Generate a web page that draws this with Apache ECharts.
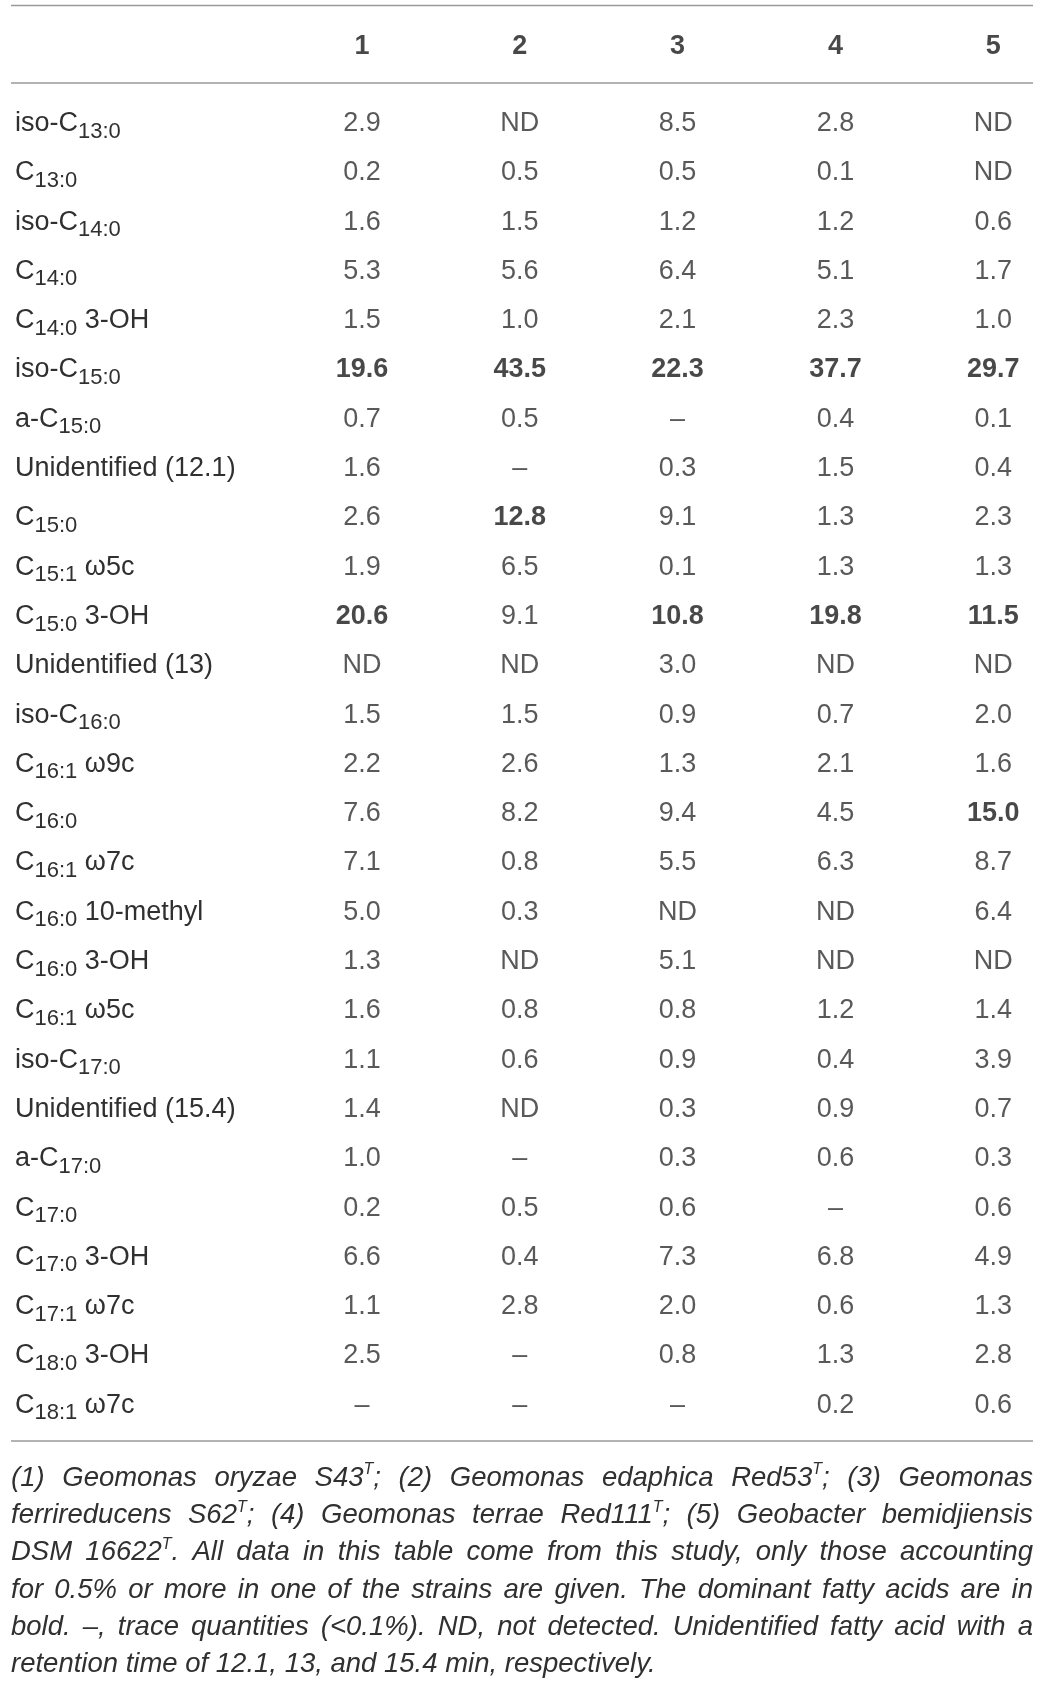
<!DOCTYPE html>
<html>
<head>
<meta charset="utf-8">
<script src="https://cdn.jsdelivr.net/npm/echarts@6/dist/echarts.min.js"></script>
<style>
html,body{margin:0;padding:0;background:#fff;}
#chart{width:1039px;height:1684px;}
</style>
</head>
<body>
<div id="chart"></div>
<script>
// ---------- data ----------
const strains = ['1', '2', '3', '4', '5'];

// fatty acid row labels: [prefix, subscript, suffix]
const acids = [
  ['iso-C', '13:0', ''],
  ['C', '13:0', ''],
  ['iso-C', '14:0', ''],
  ['C', '14:0', ''],
  ['C', '14:0', ' 3-OH'],
  ['iso-C', '15:0', ''],
  ['a-C', '15:0', ''],
  ['Unidentified (12.1)', '', ''],
  ['C', '15:0', ''],
  ['C', '15:1', ' ω5c'],
  ['C', '15:0', ' 3-OH'],
  ['Unidentified (13)', '', ''],
  ['iso-C', '16:0', ''],
  ['C', '16:1', ' ω9c'],
  ['C', '16:0', ''],
  ['C', '16:1', ' ω7c'],
  ['C', '16:0', ' 10-methyl'],
  ['C', '16:0', ' 3-OH'],
  ['C', '16:1', ' ω5c'],
  ['iso-C', '17:0', ''],
  ['Unidentified (15.4)', '', ''],
  ['a-C', '17:0', ''],
  ['C', '17:0', ''],
  ['C', '17:0', ' 3-OH'],
  ['C', '17:1', ' ω7c'],
  ['C', '18:0', ' 3-OH'],
  ['C', '18:1', ' ω7c']
];

const strain1 = ['2.9','0.2','1.6','5.3','1.5','19.6','0.7','1.6','2.6','1.9','20.6','ND','1.5','2.2','7.6','7.1','5.0','1.3','1.6','1.1','1.4','1.0','0.2','6.6','1.1','2.5','–'];
const strain2 = ['ND','0.5','1.5','5.6','1.0','43.5','0.5','–','12.8','6.5','9.1','ND','1.5','2.6','8.2','0.8','0.3','ND','0.8','0.6','ND','–','0.5','0.4','2.8','–','–'];
const strain3 = ['8.5','0.5','1.2','6.4','2.1','22.3','–','0.3','9.1','0.1','10.8','3.0','0.9','1.3','9.4','5.5','ND','5.1','0.8','0.9','0.3','0.3','0.6','7.3','2.0','0.8','–'];
const strain4 = ['2.8','0.1','1.2','5.1','2.3','37.7','0.4','1.5','1.3','1.3','19.8','ND','0.7','2.1','4.5','6.3','ND','ND','1.2','0.4','0.9','0.6','–','6.8','0.6','1.3','0.2'];
const strain5 = ['ND','ND','0.6','1.7','1.0','29.7','0.1','0.4','2.3','1.3','11.5','ND','2.0','1.6','15.0','8.7','6.4','ND','1.4','3.9','0.7','0.3','0.6','4.9','1.3','2.8','0.6'];

// dominant (bold) cells: [rowIndex, strainIndex]
const dominant = [[5,0],[5,1],[5,2],[5,3],[5,4],[8,1],[10,0],[10,2],[10,3],[10,4],[14,4]];

const captionLines = [
  '(1) Geomonas oryzae S43^T; (2) Geomonas edaphica Red53^T; (3) Geomonas',
  'ferrireducens S62^T; (4) Geomonas terrae Red111^T; (5) Geobacter bemidjiensis',
  'DSM 16622^T. All data in this table come from this study, only those accounting',
  'for 0.5% or more in one of the strains are given. The dominant fatty acids are in',
  'bold. –, trace quantities (<0.1%). ND, not detected. Unidentified fatty acid with a',
  'retention time of 12.1, 13, and 15.4 min, respectively.'
];

// ---------- layout ----------
const W = 1039;
const FONT = '"Liberation Sans", Arial, Helvetica, sans-serif';
const TXT = '#303030';
const colStep = 157.8, col1X = 362;
const xMin = (0 - (col1X - colStep)) / colStep;
const xMax = (W - (col1X - colStep)) / colStep;
const rowStep = 49.3, row1Y = 123.5;
const ruleColor = '#9a9a9a';
const ruleL = 11, ruleR = 1033;
const cellSize = 27, subSize = 22;

const columns = [strain1, strain2, strain3, strain4, strain5];
const isBold = (r, c) => dominant.some(d => d[0] === r && d[1] === c);

const cells = [];
columns.forEach((col, c) => {
  col.forEach((v, r) => {
    cells.push({
      value: [c + 1, r],
      text: v,
      label: isBold(r, c) ? { fontWeight: 'bold', color: '#1a1a1a' } : {}
    });
  });
});

const headerCells = strains.map((s, i) => ({ value: [i + 1, 0], text: s }));

// caption: justified lines via measured words
const capSize = 27.5, supSize = 16;
const cv = document.createElement('canvas').getContext('2d');
function measure(str, size) {
  cv.font = 'italic ' + size + 'px ' + FONT;
  return cv.measureText(str).width;
}
function wordInfo(word) {
  const parts = word.split('^T');
  let w = 0, rich = '';
  parts.forEach((p, i) => {
    if (p) { w += measure(p, capSize); rich += p; }
    if (i < parts.length - 1) { w += measure('T', supSize); rich += '{sup|T}'; }
  });
  return { w, rich };
}
const capTop = 1478, capStep = 37.3;
const graphics = [];
captionLines.forEach((line, li) => {
  const words = line.split(' ').map(wordInfo);
  const total = words.reduce((a, b) => a + b.w, 0);
  const last = li === captionLines.length - 1;
  const gap = last ? measure(' ', capSize) : (ruleR - ruleL - total) / (words.length - 1);
  let x = ruleL;
  words.forEach(wd => {
    graphics.push({
      type: 'text',
      x: x,
      y: capTop + li * capStep,
      style: {
        text: wd.rich,
        fontSize: capSize,
        fontFamily: FONT,
        fontStyle: 'italic',
        fill: TXT,
        lineHeight: 32,
        textAlign: 'left',
        textVerticalAlign: 'middle',
        rich: {
          sup: { fontSize: supSize, fontStyle: 'italic', fontFamily: FONT, lineHeight: 17, verticalAlign: 'top', fill: TXT, color: TXT }
        }
      }
    });
    x += wd.w + gap;
  });
});

// table rules
[5.5, 83, 1441].forEach(y => {
  graphics.push({
    type: 'line',
    shape: { x1: ruleL, y1: y, x2: ruleR, y2: y },
    style: { stroke: ruleColor, lineWidth: 1.6 }
  });
});

const chart = echarts.init(document.getElementById('chart'), null, { renderer: 'canvas' });
chart.setOption({
  backgroundColor: '#fff',
  animation: false,
  grid: [
    { left: 0, width: W, top: row1Y - rowStep / 2, height: rowStep * acids.length },
    { left: 0, width: W, top: 22, height: 50 }
  ],
  xAxis: [
    { type: 'value', gridIndex: 0, min: xMin, max: xMax, show: false },
    { type: 'value', gridIndex: 1, min: xMin, max: xMax, show: false }
  ],
  yAxis: [
    {
      type: 'category', gridIndex: 0, inverse: true,
      data: acids.map(a => a.join('')),
      axisLine: { show: false }, axisTick: { show: false }, splitLine: { show: false },
      axisLabel: {
        inside: true, margin: 15, align: 'left', interval: 0,
        formatter: (v, idx) => {
          const a = acids[idx];
          let s = '{m|' + a[0] + '}';
          if (a[1]) s += '{s|' + a[1] + '}';
          if (a[2]) s += '{m|' + a[2] + '}';
          return s;
        },
        rich: {
          m: { fontSize: cellSize, fontFamily: FONT, color: TXT, lineHeight: 38, verticalAlign: 'middle' },
          s: { fontSize: subSize, fontFamily: FONT, color: TXT, lineHeight: 22, verticalAlign: 'bottom' }
        }
      }
    },
    { type: 'category', gridIndex: 1, data: ['header'], show: false }
  ],
  series: [
    {
      type: 'scatter', xAxisIndex: 0, yAxisIndex: 0,
      symbolSize: 1, itemStyle: { color: 'rgba(0,0,0,0)' },
      data: cells,
      label: {
        show: true, position: 'inside',
        fontSize: cellSize, fontFamily: FONT, color: TXT,
        formatter: p => p.data.text
      },
      silent: true
    },
    {
      type: 'scatter', xAxisIndex: 1, yAxisIndex: 1,
      symbolSize: 1, itemStyle: { color: 'rgba(0,0,0,0)' },
      data: headerCells,
      label: {
        show: true, position: 'inside',
        fontSize: cellSize, fontWeight: 'bold', fontFamily: FONT, color: '#1a1a1a',
        formatter: p => p.data.text
      },
      silent: true
    }
  ],
  graphic: graphics
});
</script>
</body>
</html>
